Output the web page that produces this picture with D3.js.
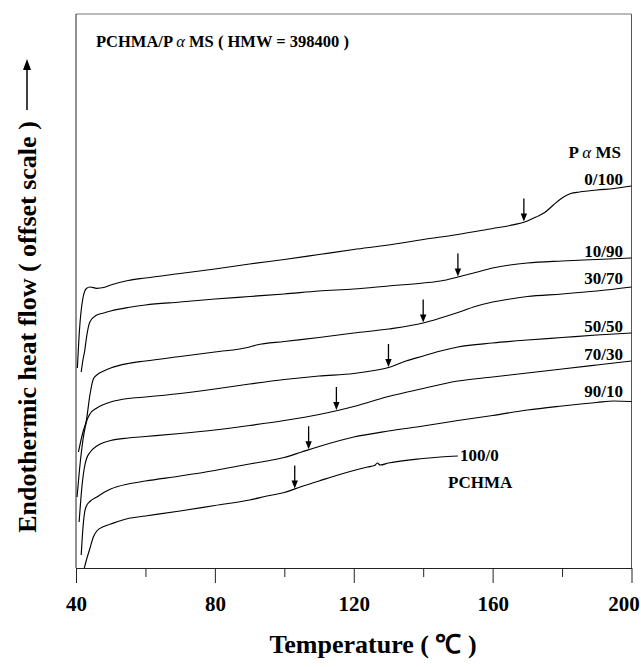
<!DOCTYPE html>
<html><head><meta charset="utf-8">
<script src="https://cdn.jsdelivr.net/npm/d3@7"></script>
<style>body{margin:0;background:#fff} text{font-family:"Liberation Serif","Times New Roman",serif;font-weight:bold;fill:#000}</style>
</head><body><svg id="c" width="641" height="667"></svg>
<script>
// ---- data (temperature in °C, heat flow in arbitrary offset units) ----
const t0_100 = [40.4,41,42,43,44,46,48,50,55,60,70,80,90,100,110,120,130,140,150,160,165,170,172.5,175,177.5,180,182.5,185,190,195,200];
const h0_100 = [20.0,23.8,27.0,27.95,28.1,27.97,28.05,28.3,28.75,29.0,29.45,29.9,30.4,30.85,31.35,31.85,32.3,32.85,33.35,33.95,34.25,34.7,35.1,35.55,36.3,37.0,37.45,37.6,37.8,37.95,38.2];
const t10_90 = [41.5,42,42.5,43,44,46,48,50,55,60,70,80,90,100,110,120,130,140,145,150,155,160,165,170,180,190,200];
const h10_90 = [19.6,20.8,21.7,23.0,24.6,25.3,25.5,25.7,26.05,26.3,26.6,26.9,27.15,27.4,27.7,27.9,28.2,28.5,28.7,29.1,29.55,30.0,30.3,30.5,30.7,30.85,31.0];
const t30_70 = [40.7,42,43,44,45,46,48,50,55,60,70,80,90,92,100,110,120,130,140,145,150,155,160,165,170,180,190,200];
const h30_70 = [11.6,13.6,14.8,17.3,18.9,19.3,19.7,20.0,20.45,20.7,21.15,21.6,22.1,22.3,22.65,23.05,23.5,23.9,24.5,25.0,25.55,26.15,26.6,26.9,27.15,27.4,27.7,28.1];
const t50_50 = [40.3,41,42,43,44,46,48,50,55,60,70,80,90,100,110,120,125,130,135,140,145,150,160,170,180,190,200];
const h50_50 = [7.1,9.8,12.8,14.6,15.4,16.0,16.35,16.6,16.95,17.1,17.45,17.9,18.4,18.85,19.2,19.45,19.7,20.05,20.7,21.2,21.7,22.1,22.5,22.8,23.05,23.3,23.5];
const t70_30 = [40.9,41.7,42.5,43,44,46,48,50,55,60,70,80,90,100,110,120,125,130,140,150,160,170,180,190,200];
const h70_30 = [4.6,8.1,10.2,10.9,11.55,12.2,12.55,12.75,13.0,13.15,13.45,13.8,14.25,14.75,15.35,16.15,16.65,17.15,17.95,18.7,19.1,19.5,19.9,20.3,20.7];
const t90_10 = [41.5,42,42.5,43,44,46,48,50,55,60,70,80,90,95,100,105,110,120,130,140,150,160,170,180,190,195,200];
const h90_10 = [1.3,4.0,5.6,6.2,6.65,7.1,7.55,7.9,8.4,8.7,9.2,9.75,10.4,10.7,11.05,11.6,12.15,13.1,13.7,14.2,14.75,15.25,15.8,16.2,16.55,16.7,16.65];
const t100_0 = [42.4,43,44,45,46,48,50,55,60,70,80,90,95,100,105,110,115,120,124,126,126.8,127.6,130,140,145,150];
const h100_0 = [0.0,0.8,1.95,3.1,3.7,4.15,4.4,4.95,5.2,5.7,6.25,6.8,7.2,7.55,8.15,8.7,9.25,9.75,10.1,10.25,10.5,10.3,10.5,10.95,11.1,11.2];

const seriesLabels = ["0/100","10/90","30/70","50/50","70/30","90/10","100/0"];
const tgArrows = [169,150,140,130,115,107,103];
const majorTicks = [40,80,120,160,200];
const minorTicks = [60,100,140,180];

const seriesT = [t0_100,t10_90,t30_70,t50_50,t70_30,t90_10,t100_0];
const seriesH = [h0_100,h10_90,h30_70,h50_50,h70_30,h90_10,h100_0];

// ---- layout ----
const L = 76, R = 631.5, T = 14, B = 568;
const svg = d3.select("#c");
const x = d3.scaleLinear().domain([40,200]).range([L,R]);
const y = d3.scaleLinear().domain([0,55.4]).range([B,T]);

// frame
svg.append("line").attr("x1",L).attr("x2",R).attr("y1",T).attr("y2",T).attr("stroke","#777").attr("stroke-width",1);
svg.append("line").attr("x1",R).attr("x2",R).attr("y1",T).attr("y2",B).attr("stroke","#555").attr("stroke-width",1);
svg.append("line").attr("x1",L).attr("x2",L).attr("y1",T).attr("y2",B).attr("stroke","#222").attr("stroke-width",1);

// bottom axis
const gx = svg.append("g").attr("transform",`translate(0,${B})`);
gx.call(d3.axisBottom(x).tickValues(majorTicks).tickSize(15).tickSizeOuter(0).tickFormat(d3.format("d")));
gx.select(".domain").attr("stroke","#222");
gx.selectAll(".tick line").attr("stroke","#222");
gx.selectAll(".tick text").attr("font-size",21).attr("font-family","Liberation Serif, Times New Roman, serif").attr("font-weight","bold").attr("fill","#000").attr("dy",0).attr("y",43)
  .attr("dx", d => d === 200 ? -8 : 0);
const gm = svg.append("g").attr("transform",`translate(0,${B})`);
gm.call(d3.axisBottom(x).tickValues(minorTicks).tickSize(9).tickFormat(""));
gm.select(".domain").remove();
gm.selectAll(".tick line").attr("stroke","#222");

// curves
const line = d3.line().x(d=>x(d[0])).y(d=>y(d[1])).curve(d3.curveMonotoneX);
seriesT.forEach((ts,i)=>{
  const pts = ts.map((t,j)=>[t,seriesH[i][j]]);
  svg.append("path").attr("d",line(pts)).attr("fill","none").attr("stroke","#000").attr("stroke-width",1.15);
});

// Tg arrows
function interp(ts,hs,t){
  const i = d3.bisectLeft(ts,t);
  if(i<=0) return hs[0];
  if(i>=ts.length) return hs[hs.length-1];
  const f=(t-ts[i-1])/(ts[i]-ts[i-1]);
  return hs[i-1]+f*(hs[i]-hs[i-1]);
}
tgArrows.forEach((t,i)=>{
  const px = x(t), py = y(interp(seriesT[i],seriesH[i],t)) - 0.5;
  svg.append("line").attr("x1",px).attr("x2",px).attr("y1",py-23).attr("y2",py-6).attr("stroke","#000").attr("stroke-width",1.3);
  svg.append("path").attr("d",`M${px-3.2},${py-8}L${px+3.2},${py-8}L${px},${py}Z`).attr("fill","#000");
});

// series labels (right side)
const labelPos = [[623,185],[623,257],[623,284],[623,332],[623,360],[623,397]];
labelPos.forEach((p,i)=>{
  svg.append("text").attr("x",p[0]).attr("y",p[1]).attr("text-anchor","end").attr("font-size",17).text(seriesLabels[i]);
});
const pm = svg.append("text").attr("x",621).attr("y",158).attr("text-anchor","end").attr("font-size",17);
pm.append("tspan").text("P ");
pm.append("tspan").attr("font-style","italic").attr("font-weight","normal").text("α");
pm.append("tspan").text(" MS");
svg.append("text").attr("x",460).attr("y",461).attr("font-size",17).text(seriesLabels[6]);
svg.append("text").attr("x",448).attr("y",488).attr("font-size",17).text("PCHMA");

// title
const tt = svg.append("text").attr("x",96).attr("y",47).attr("font-size",16.5);
tt.append("tspan").text("PCHMA/P ");
tt.append("tspan").attr("font-style","italic").attr("font-weight","normal").text("α");
tt.append("tspan").text(" MS ( HMW = 398400 )");

// axis titles
svg.append("text").attr("x",373).attr("y",653).attr("text-anchor","middle").attr("font-size",26).text("Temperature ( ℃ )");
svg.append("text").attr("transform","translate(36,327) rotate(-90)").attr("text-anchor","middle").attr("font-size",26).text("Endothermic heat flow ( offset scale )");
// y arrow
svg.append("line").attr("x1",27).attr("x2",27).attr("y1",110).attr("y2",68).attr("stroke","#000").attr("stroke-width",1.5);
svg.append("path").attr("d","M23,70L31,70L27,59Z").attr("fill","#000");
</script></body></html>
